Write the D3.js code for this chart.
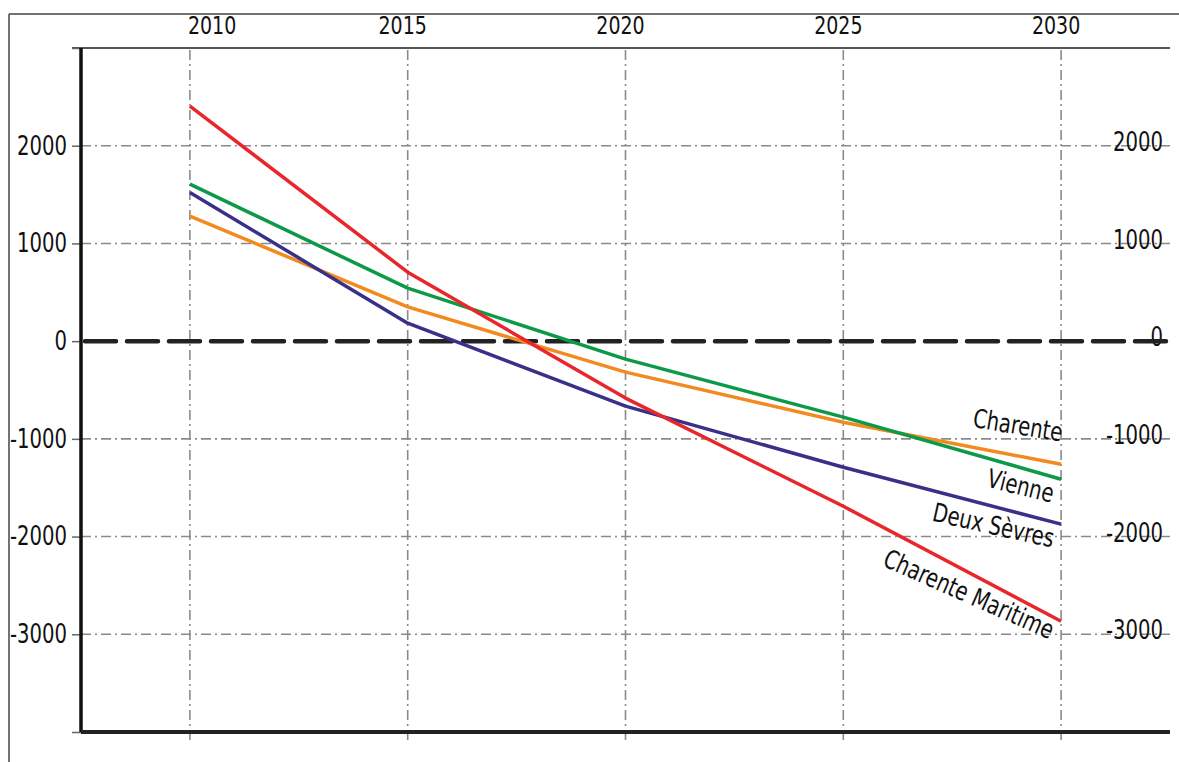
<!DOCTYPE html>
<html>
<head>
<meta charset="utf-8">
<script src="https://cdn.jsdelivr.net/npm/d3@7"></script>
<style>
  html, body { margin: 0; padding: 0; background: #fff; }
  svg { display: block; }
  text { font-family: "DejaVu Sans Condensed", "DejaVu Sans", sans-serif; fill: #111; }
</style>
</head>
<body>
<svg id="chart" width="1179" height="762"></svg>
<script>
// ---- data ----
const years = [2010, 2015, 2020, 2025, 2030];
const seriesNames = ["Charente", "Vienne", "Deux Sèvres", "Charente Maritime"];
const charente = [1280, 350, -317, -830, -1260];
const vienne = [1607, 542, -184, -778, -1413];
const deuxSevres = [1520, 184, -665, -1290, -1873];
const charenteMaritime = [2405, 706, -583, -1690, -2866];
const yTicks = [-4000, -3000, -2000, -1000, 0, 1000, 2000, 3000];
const yTickLabels = ["", "-3000", "-2000", "-1000", "0", "1000", "2000", ""];
const xTickLabels = ["2010", "2015", "2020", "2025", "2030"];

const seriesValues = [charente, vienne, deuxSevres, charenteMaritime];
const seriesColors = ["#f28a1f", "#0c9a48", "#393188", "#e8262b"];
// label placement: perpendicular offset from line end (negative = above)
const labelOffsets = [-23, 24, 24, 20];

(function () {
const svg = d3.select("#chart");
const W = 1179, H = 762;
const mLeft = 81, mRight = 1170, mTop = 48, mBottom = 732;
const SX = 0.84; // horizontal text squeeze

const x = d3.scaleLinear().domain([2007.5, 2032.5]).range([mLeft, mRight]);
const y = d3.scaleLinear().domain([-4000, 3000]).range([mBottom, mTop]);

// outer frame
svg.append("line").attr("x1", 9).attr("x2", W).attr("y1", 14).attr("y2", 14)
  .attr("stroke", "#444").attr("stroke-width", 1.5);
svg.append("line").attr("x1", 9).attr("x2", 9).attr("y1", 14).attr("y2", H)
  .attr("stroke", "#444").attr("stroke-width", 1.5);

const gridDash = "10,4,2,4";
const gridColor = "#8a8a8a";

// horizontal grid
svg.append("g").selectAll("line")
  .data(yTicks.filter(d => d !== 0 && d !== -4000 && d !== 3000))
  .join("line")
  .attr("x1", mLeft).attr("x2", mRight)
  .attr("y1", d => y(d)).attr("y2", d => y(d))
  .attr("stroke", gridColor).attr("stroke-width", 1.6)
  .attr("stroke-dasharray", gridDash);

// vertical grid
svg.append("g").selectAll("line")
  .data(years)
  .join("line")
  .attr("x1", d => x(d)).attr("x2", d => x(d))
  .attr("y1", mTop + 2).attr("y2", mBottom + 8)
  .attr("stroke", gridColor).attr("stroke-width", 1.6)
  .attr("stroke-dasharray", gridDash);

// top axis line
svg.append("line").attr("x1", 72).attr("x2", mRight).attr("y1", mTop).attr("y2", mTop)
  .attr("stroke", "#555").attr("stroke-width", 2);

// left axis with ticks
const yAxis = d3.axisLeft(y).tickValues(yTicks).tickSize(9)
  .tickFormat((d, i) => yTickLabels[i]).tickPadding(5);
const gy = svg.append("g").attr("transform", `translate(${mLeft},0)`).call(yAxis);
gy.select(".domain").remove();
gy.selectAll(".tick line").attr("stroke", "#666").attr("stroke-width", 1.5);
gy.selectAll(".tick text")
  .attr("font-size", 26)
  .attr("x", -14 / SX)
  .attr("transform", `scale(${SX},1)`)
  .style("font-family", '"DejaVu Sans Condensed", "DejaVu Sans", sans-serif')
  .attr("fill", "#111");

// right labels
svg.append("g").selectAll("g")
  .data(yTicks.map((d, i) => ({ v: d, t: yTickLabels[i] })).filter(d => d.t !== ""))
  .join("g")
  .attr("transform", d => `translate(1163,${y(d.v) - 4})`)
  .append("text")
  .attr("transform", `scale(${SX},1)`)
  .attr("dy", "0.35em")
  .attr("text-anchor", "end")
  .attr("font-size", 26)
  .text(d => d.t);

// top x labels
svg.append("g").selectAll("g")
  .data(years)
  .join("g")
  .attr("transform", (d, i) => `translate(${i === 0 ? x(d) - 2 : x(d) - 5},34)`)
  .append("text")
  .attr("transform", "scale(0.88,1)")
  .attr("text-anchor", (d, i) => i === 0 ? "start" : "middle")
  .attr("font-size", 24)
  .text((d, i) => xTickLabels[i]);

// zero line
svg.append("line").attr("x1", mLeft + 4).attr("x2", mRight).attr("y1", y(0)).attr("y2", y(0))
  .attr("stroke", "#222").attr("stroke-width", 4.5)
  .attr("stroke-dasharray", "31,11").attr("stroke-linecap", "round");

// left axis line & bottom line
svg.append("line").attr("x1", mLeft).attr("x2", mLeft).attr("y1", mTop).attr("y2", mBottom)
  .attr("stroke", "#111").attr("stroke-width", 3.5);
svg.append("line").attr("x1", mLeft).attr("x2", mRight).attr("y1", mBottom).attr("y2", mBottom)
  .attr("stroke", "#222").attr("stroke-width", 4);

// series lines
const line = d3.line().x((d, i) => x(years[i])).y(d => y(d));
seriesValues.forEach((vals, s) => {
  svg.append("path").datum(vals)
    .attr("d", line)
    .attr("fill", "none")
    .attr("stroke", seriesColors[s])
    .attr("stroke-width", 3.5)
    .attr("stroke-linejoin", "round");
});

// series labels at line ends
seriesValues.forEach((vals, s) => {
  const n = vals.length;
  const x1 = x(years[n - 2]), y1 = y(vals[n - 2]);
  const x2 = x(years[n - 1]), y2 = y(vals[n - 1]);
  const ang = Math.atan2(y2 - y1, x2 - x1) * 180 / Math.PI * 0.86;
  svg.append("g")
    .attr("transform", `translate(${x2 - 4},${y2}) rotate(${ang}) translate(0,${labelOffsets[s]})`)
    .append("text")
    .attr("transform", `scale(${SX},1)`)
    .attr("text-anchor", "end")
    .attr("font-size", 26)
    .attr("fill", "#222")
    .text(seriesNames[s]);
});
})();
</script>
</body>
</html>
